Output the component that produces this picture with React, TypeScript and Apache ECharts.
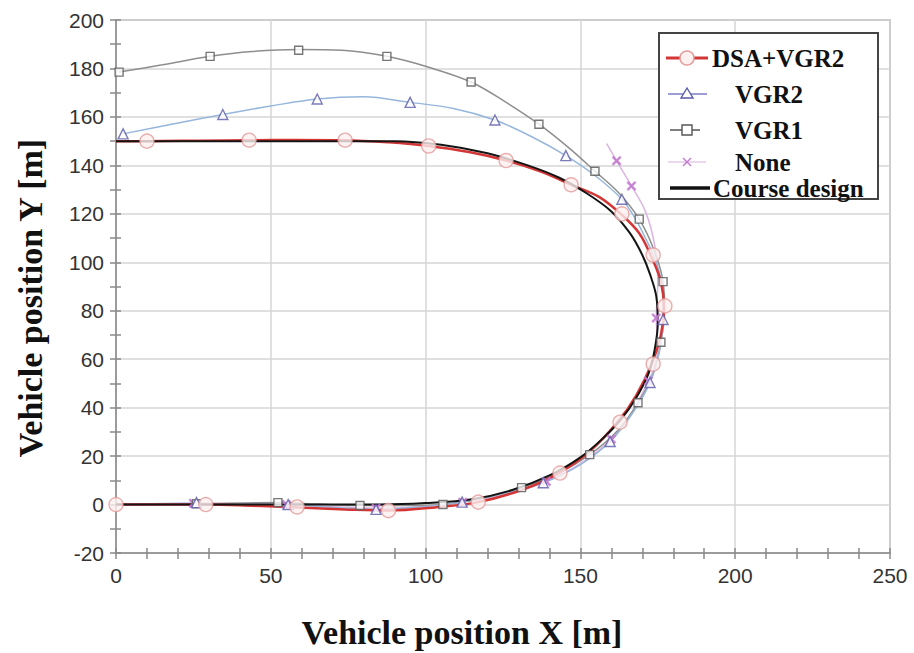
import React, { useEffect, useRef } from "react";
import * as echarts from "echarts";

// Axis ranges and ticks
const X_MIN = 0;
const X_MAX = 250;
const X_STEP = 50;
const Y_MIN = -20;
const Y_MAX = 200;
const Y_STEP = 20;

// Reference course (no markers)
const courseDesign: number[][] = [
  [0, 0], [30, 0], [60, 0], [85, 0], [100, 0.6], [115, 2.2], [128, 6], [140, 12],
  [150, 19.5], [157, 27], [163, 35], [168, 44], [172, 54], [174, 64], [175, 75],
  [174.5, 86], [172.5, 95], [170, 103], [166, 112], [160, 121], [152, 128.5],
  [143, 135], [133, 140], [120, 145], [105, 148.5], [90, 150], [60, 150], [30, 150], [0, 150],
];

// DSA+VGR2 trajectory and its circle markers
const dsaPath: number[][] = [
  [0, 0], [15, 0], [29, 0], [44, -0.5], [59, -1.2], [74, -2], [88, -2.5], [103, -1.2],
  [117, 1], [131, 6], [143, 13], [153, 22], [162, 34], [168, 45], [173, 58], [176, 70],
  [177, 81], [176, 92], [173, 102], [169, 112], [163, 120], [156, 127], [147, 132],
  [137, 137.5], [126, 142], [114, 145.5], [101, 148], [88, 149.5], [74, 150.4],
  [58, 150.5], [43, 150.4], [27, 150.2], [10, 150], [0, 150],
];
const dsaMarkers: number[][] = [
  [0, 0], [29, 0], [58.5, -1], [88, -2.5], [117, 1], [143.4, 13], [162.8, 34],
  [173.5, 58], [177.3, 82], [173.5, 103], [163.4, 120], [147, 132], [126, 142],
  [101, 148], [74, 150.4], [43, 150.4], [10, 150],
];

// VGR2 trajectory and its triangle markers
const vgr2Path: number[][] = [
  [0, 0], [26, 0.5], [40, 0], [55.6, 0], [70, -1.2], [84, -2], [98, -1], [111.8, 1],
  [125, 4.5], [138, 9], [150, 16.5], [159.6, 26], [167, 38], [172.5, 50.4], [175.5, 63],
  [176.7, 76.4], [176.5, 89], [174.5, 100], [171, 110], [167.5, 118.5], [163.4, 126],
  [155, 135.5], [145.3, 144], [134, 152], [122.4, 158.7], [109, 163.5], [95, 166],
  [80, 168.3], [65, 167.4], [50, 164.5], [34.5, 161], [18, 157], [2.3, 153],
];
const vgr2Markers: number[][] = [
  [26, 0.8], [55.6, 0], [84, -2], [111.8, 1], [138, 9], [159.6, 26], [172.5, 50.4],
  [176.7, 76.4], [163.4, 126], [145.3, 144], [122.4, 158.7], [95, 166], [65, 167.4],
  [34.5, 161], [2.3, 153],
];

// VGR1 trajectory and its square markers
const vgr1Path: number[][] = [
  [0, 0], [26, 0.3], [52.3, 0.8], [65, 0.2], [78.8, -0.4], [92, -0.4], [105.6, 0],
  [118, 2.5], [131, 7], [143, 13], [153, 20.6], [162, 30.5], [168.6, 42], [173.5, 54],
  [176, 67], [177.2, 80], [176.7, 92], [173.8, 105], [169, 117.8], [162.5, 128.5],
  [154.7, 137.6], [146, 147.5], [136.6, 157], [126, 166], [114.7, 174.4], [101, 180.5],
  [87.5, 185], [73, 187.5], [59, 187.8], [44, 187], [30.4, 185], [15, 181.5], [1, 178.5],
];
const vgr1Markers: number[][] = [
  [26, 0.3], [52.3, 0.8], [78.8, -0.4], [105.6, 0], [131, 7], [153, 20.6], [168.6, 42],
  [176, 67], [176.7, 92], [169, 117.8], [154.7, 137.6], [136.6, 157], [114.7, 174.4],
  [87.5, 185], [59, 187.5], [30.4, 185], [1, 178.5],
];

// Uncontrolled vehicle trajectory and its cross markers
const nonePath: number[][] = [
  [0, 0], [25, 0.5], [55, 0], [84, -1.5], [112, 1], [139, 9.5], [160, 27], [172, 51],
  [175, 65], [174.5, 77], [175, 92], [174, 107], [171, 121], [166.5, 131.5],
  [161.7, 141.9], [158.5, 149],
];
const noneMarkers: number[][] = [
  [25, 0.5], [55, 0], [84, -1.5], [112, 1], [139, 9.5], [160, 27], [172, 51],
  [174.5, 77], [166.5, 131.5], [161.7, 141.9],
];

// Legend entries
const legendLabels = ["DSA+VGR2", "VGR2", "VGR1", "None", "Course design"];

const xTitle = "Vehicle position X [m]";
const yTitle = "Vehicle position Y [m]";

const RED = "#d43636";
const CROSS = "path://M0,1L1,0L5,4L9,0L10,1L6,5L10,9L9,10L5,6L1,10L0,9L4,5Z";
const AXIS_GRAY = "#8a8a8a";

export default function App() {
  const ref = useRef<HTMLDivElement>(null);

  useEffect(() => {
    if (!ref.current) return;
    const chart = echarts.init(ref.current, undefined, { renderer: "svg" });

    const tickStyle = { color: AXIS_GRAY, width: 1.5 };
    const labelStyle = {
      fontSize: 21,
      color: "#333",
      fontFamily: "Liberation Sans, Arial, sans-serif",
    };

    const lineSeries = (data: number[][], color: string, width: number, z: number) => ({
      type: "line",
      data,
      symbol: "none",
      showSymbol: false,
      smooth: 0.35,
      lineStyle: { color, width },
      z,
      silent: true,
    });

    const markerSeries = (
      data: number[][],
      symbol: string,
      size: number,
      fill: string,
      stroke: string,
      z: number
    ) => ({
      type: "scatter",
      data,
      symbol,
      symbolSize: size,
      itemStyle: { color: fill, borderColor: stroke, borderWidth: 1.4 },
      z,
      silent: true,
    });

    const legendFont = 'bold 25px "Liberation Serif", "Times New Roman", serif';
    const titleFont = 'bold 34px "Liberation Serif", "Times New Roman", serif';
    const rowY = [58, 94, 130, 162, 188];
    const textX = [712, 735, 735, 735, 713];

    const legendGraphics: any[] = [
      {
        type: "rect",
        shape: { x: 659, y: 33, width: 219, height: 166 },
        style: { fill: "#fff", stroke: "#444", lineWidth: 2 },
        z: 100,
      },
      // DSA+VGR2
      {
        type: "line",
        shape: { x1: 666, y1: rowY[0], x2: 708, y2: rowY[0] },
        style: { stroke: RED, lineWidth: 3 },
        z: 101,
      },
      {
        type: "circle",
        shape: { cx: 687, cy: rowY[0], r: 7 },
        style: { fill: "#fdf0f0", stroke: "#e49a9a", lineWidth: 1.5 },
        z: 102,
      },
      // VGR2
      {
        type: "line",
        shape: { x1: 668, y1: rowY[1], x2: 707, y2: rowY[1] },
        style: { stroke: "#7c7cc8", lineWidth: 1.5 },
        z: 101,
      },
      {
        type: "polygon",
        shape: { points: [[687, rowY[1] - 6], [693, rowY[1] + 4], [681, rowY[1] + 4]] },
        style: { fill: "#fff", stroke: "#5a5aa8", lineWidth: 1.4 },
        z: 102,
      },
      // VGR1
      {
        type: "line",
        shape: { x1: 670, y1: rowY[2], x2: 700, y2: rowY[2] },
        style: { stroke: "#555", lineWidth: 1.5 },
        z: 101,
      },
      {
        type: "rect",
        shape: { x: 682, y: rowY[2] - 5, width: 10, height: 10 },
        style: { fill: "#fff", stroke: "#555", lineWidth: 1.4 },
        z: 102,
      },
      // None
      {
        type: "line",
        shape: { x1: 668, y1: rowY[3], x2: 706, y2: rowY[3] },
        style: { stroke: "#e6cbe8", lineWidth: 1.5 },
        z: 101,
      },
      {
        type: "line",
        shape: { x1: 683, y1: rowY[3] - 4, x2: 691, y2: rowY[3] + 4 },
        style: { stroke: "#c47ad0", lineWidth: 1.4 },
        z: 102,
      },
      {
        type: "line",
        shape: { x1: 691, y1: rowY[3] - 4, x2: 683, y2: rowY[3] + 4 },
        style: { stroke: "#c47ad0", lineWidth: 1.4 },
        z: 102,
      },
      // Course design
      {
        type: "line",
        shape: { x1: 670, y1: rowY[4], x2: 710, y2: rowY[4] },
        style: { stroke: "#111", lineWidth: 3.5 },
        z: 101,
      },
      ...legendLabels.map((label, i) => ({
        type: "text",
        x: textX[i],
        y: rowY[i],
        style: {
          text: label,
          font: legendFont,
          fill: "#111",
          align: "left",
          verticalAlign: "middle",
        },
        z: 103,
      })),
      // Axis titles
      {
        type: "text",
        x: 462,
        y: 632,
        style: {
          text: xTitle,
          font: titleFont,
          fill: "#111",
          align: "center",
          verticalAlign: "middle",
        },
      },
      {
        type: "text",
        x: 30,
        y: 298,
        rotation: Math.PI / 2,
        style: {
          text: yTitle,
          font: titleFont,
          fill: "#111",
          align: "center",
          verticalAlign: "middle",
        },
      },
    ];

    chart.setOption({
      animation: false,
      backgroundColor: "#fff",
      grid: {
        left: 116,
        top: 20,
        width: 774,
        height: 533,
        show: true,
        borderColor: "#9a9a9a",
        borderWidth: 1.5,
        backgroundColor: "#fff",
      },
      xAxis: [
        {
          type: "value",
          min: X_MIN,
          max: X_MAX,
          interval: X_STEP,
          position: "bottom",
          axisLine: { show: true, onZero: false, lineStyle: tickStyle },
          axisTick: { show: true, length: 6, lineStyle: tickStyle },
          minorTick: { show: true, splitNumber: 5, length: 6, lineStyle: tickStyle },
          axisLabel: { ...labelStyle, margin: 12 },
          splitLine: { show: true, lineStyle: { color: "#d6d6d6", width: 1.5 } },
        },
        {
          type: "value",
          min: X_MIN,
          max: X_MAX,
          interval: X_STEP,
          position: "bottom",
          axisLine: { show: false, onZero: false },
          axisTick: { show: true, inside: true, length: 5, lineStyle: tickStyle },
          minorTick: { show: true, splitNumber: 5, length: 5, lineStyle: tickStyle },
          axisLabel: { show: false },
          splitLine: { show: false },
        },
      ],
      yAxis: [
        {
          type: "value",
          min: Y_MIN,
          max: Y_MAX,
          interval: Y_STEP,
          position: "left",
          axisLine: { show: true, onZero: false, lineStyle: tickStyle },
          axisTick: { show: true, length: 6, lineStyle: tickStyle },
          minorTick: { show: true, splitNumber: 2, length: 6, lineStyle: tickStyle },
          axisLabel: { ...labelStyle, margin: 12 },
          splitLine: { show: true, lineStyle: { color: "#d6d6d6", width: 1.5 } },
        },
        {
          type: "value",
          min: Y_MIN,
          max: Y_MAX,
          interval: Y_STEP,
          position: "left",
          axisLine: { show: false, onZero: false },
          axisTick: { show: true, inside: true, length: 5, lineStyle: tickStyle },
          minorTick: { show: true, splitNumber: 2, length: 5, lineStyle: tickStyle },
          axisLabel: { show: false },
          splitLine: { show: false },
        },
      ],
      series: [
        { name: "None", ...lineSeries(nonePath, "#dcb4e2", 1.5, 2) },
        { name: "VGR1", ...lineSeries(vgr1Path, "#8e8e8e", 1.5, 3) },
        { name: "VGR2", ...lineSeries(vgr2Path, "#96b6dc", 1.5, 4) },
        { name: "DSA+VGR2", ...lineSeries(dsaPath, RED, 2.5, 5) },
        { name: "Course design", ...lineSeries(courseDesign, "#141414", 2, 6) },
        { name: "None", ...markerSeries(noneMarkers, CROSS, 8, "#c47ad0", "#c47ad0", 7) },
        { name: "VGR1", ...markerSeries(vgr1Markers, "rect", 8, "#fff", "#555", 8) },
        { name: "VGR2", ...markerSeries(vgr2Markers, "triangle", 10, "#fff", "#5a5aa8", 9) },
        { name: "DSA+VGR2", ...markerSeries(dsaMarkers, "circle", 14, "#fdf0f0", "#e49a9a", 10) },
      ],
      graphic: legendGraphics,
    });

    return () => chart.dispose();
  }, []);

  return (
    <div
      ref={ref}
      style={{ position: "fixed", left: 0, top: 0, width: 914, height: 653, background: "#fff" }}
    />
  );
}
